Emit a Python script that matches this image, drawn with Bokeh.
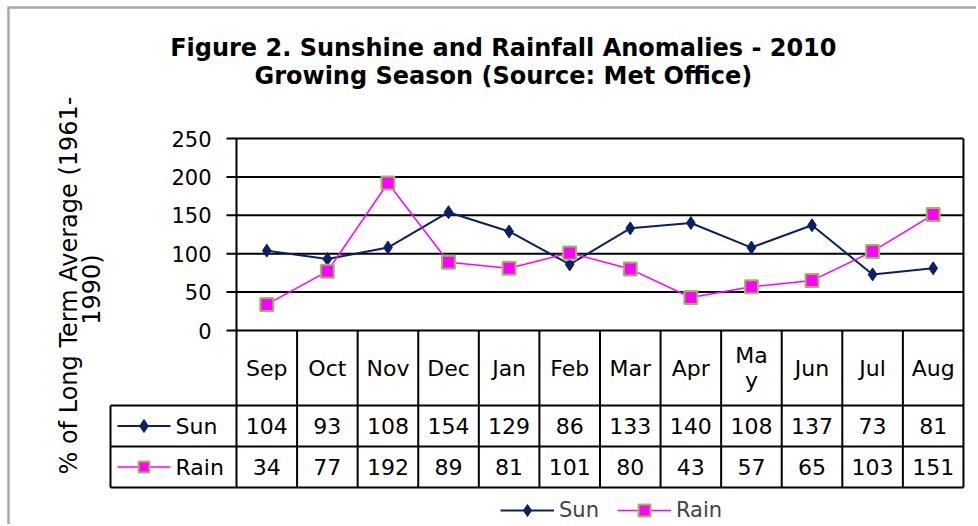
import numpy as np
from bokeh.plotting import figure
from bokeh.models import ColumnDataSource, Range1d, Label, Legend, LegendItem
from bokeh.core.properties import value
from bokeh.embed import file_html
from bokeh.resources import INLINE

# ---- data ----
months = ["Sep", "Oct", "Nov", "Dec", "Jan", "Feb", "Mar", "Apr", "May", "Jun", "Jul", "Aug"]
sun = [104, 93, 108, 154, 129, 86, 133, 140, 108, 137, 73, 81]
rain = [34, 77, 192, 89, 81, 101, 80, 43, 57, 65, 103, 151]
y_ticks = [0, 50, 100, 150, 200, 250]
title_lines = ["Figure 2.  Sunshine and Rainfall Anomalies - 2010",
               "Growing Season  (Source: Met Office)"]
ytitle_lines = ["% of Long Term Average (1961-", "1990)"]
series_names = ["Sun", "Rain"]

SUN_C = "#0b1f66"
RAIN_C = "#ff00ff"
RAIN_EDGE = "#9bbb59"
BORDER_C = "#a8a8a8"
FONT = value("DejaVu Sans")

W, H = 976, 524
# layout helpers: canvas pixel -> data units (x: one unit per month column)
def dx(px):
    return (px - 236.0) / 60.58

def dy(py):
    return (330.0 - py) / 0.768

n = len(months)
xc = [i + 0.5 for i in range(n)]

# table geometry (data units)
Y_HEAD = dy(405)
Y_SUN = dy(446)
Y_RAIN = dy(487)
X_LAB = dx(110)
YC_HEAD = dy(367.5)
YC_SUN = dy(425.5)
YC_RAIN = dy(466.5)

p = figure(width=W, height=H, output_backend="svg", toolbar_location=None,
           x_axis_type=None, y_axis_type=None,
           x_range=Range1d(dx(0), dx(W)), y_range=Range1d(dy(H), dy(0)),
           min_border=0)
p.outline_line_color = None
p.background_fill_color = "white"
p.border_fill_color = "white"

# chart-area border (left & top)
p.segment(x0=[dx(8), dx(7)], y0=[dy(H), dy(7)], x1=[dx(8), dx(W)], y1=[dy(7), dy(7)],
          line_color=BORDER_C, line_width=2.5)

# gridlines + tick marks
p.segment(x0=[dx(226)] * len(y_ticks), y0=y_ticks, x1=[n] * len(y_ticks), y1=y_ticks,
          line_color="black", line_width=2)
# tick labels
p.text(x=[dx(211)] * len(y_ticks), y=y_ticks, text=[str(t) for t in y_ticks],
       text_font=FONT, text_font_size="21px", text_align="right", text_baseline="middle",
       text_color="black")

# table lines
vx0 = [0, n] + list(range(1, n)) + [X_LAB]
vy0 = [max(y_ticks), max(y_ticks)] + [0] * (n - 1) + [Y_HEAD]
vy1 = [Y_RAIN] * (n + 2)
p.segment(x0=vx0, y0=vy0, x1=vx0, y1=vy1, line_color="black", line_width=2)
p.segment(x0=[X_LAB] * 3, y0=[Y_HEAD, Y_SUN, Y_RAIN], x1=[n] * 3, y1=[Y_HEAD, Y_SUN, Y_RAIN],
          line_color="black", line_width=2)

# header labels
disp = ["Ma\ny" if m == "May" else m for m in months]
p.text(x=xc, y=[YC_HEAD] * n, text=disp, text_font=FONT, text_font_size="22px",
       text_align="center", text_baseline="middle", text_color="black", text_line_height=1.0)
# values
p.text(x=xc, y=[YC_SUN] * n, text=[str(v) for v in sun], text_font=FONT, text_font_size="22px",
       text_align="center", text_baseline="middle", text_color="black")
p.text(x=xc, y=[YC_RAIN] * n, text=[str(v) for v in rain], text_font=FONT, text_font_size="22px",
       text_align="center", text_baseline="middle", text_color="black")

# row legend keys in the table
p.line(x=[dx(117), dx(170)], y=[YC_SUN, YC_SUN], line_color=SUN_C, line_width=2)
p.scatter(x=[dx(143.5)], y=[YC_SUN], marker="diamond", size=13,
          fill_color=SUN_C, line_color=SUN_C)
p.line(x=[dx(117), dx(170)], y=[YC_RAIN, YC_RAIN], line_color=RAIN_C, line_width=1.5)
p.scatter(x=[dx(143.5)], y=[YC_RAIN], marker="square", size=11,
          fill_color=RAIN_C, line_color=RAIN_EDGE, line_width=2)
p.text(x=[dx(175), dx(175)], y=[YC_SUN, YC_RAIN], text=series_names, text_font=FONT,
       text_font_size="22px", text_align="left", text_baseline="middle", text_color="black")

# series
src = ColumnDataSource(dict(x=xc, sun=sun, rain=rain))
l1 = p.line("x", "sun", source=src, line_color=SUN_C, line_width=2)
m1 = p.scatter("x", "sun", source=src, marker="diamond", size=13,
               fill_color=SUN_C, line_color=SUN_C)
l2 = p.line("x", "rain", source=src, line_color=RAIN_C, line_width=1.5)
m2 = p.scatter("x", "rain", source=src, marker="square", size=13,
               fill_color=RAIN_C, line_color=RAIN_EDGE, line_width=2)

legend = Legend(items=[LegendItem(label=series_names[0], renderers=[l1, m1]),
                       LegendItem(label=series_names[1], renderers=[l2, m2])],
                orientation="horizontal", location=(500, -1),
                label_text_font="DejaVu Sans", label_text_font_size="21px",
                glyph_width=54, glyph_height=30, spacing=18, padding=0, margin=0,
                label_standoff=5, border_line_color=None, background_fill_alpha=0)
p.add_layout(legend)

# titles
for txt, py in zip(title_lines, [47, 75]):
    p.add_layout(Label(x=dx(507), y=dy(py), text=txt, text_align="center", text_baseline="middle",
                       text_font="DejaVu Sans", text_font_style="bold",
                       text_font_size="24px", text_color="black"))
for txt, px, py in zip(ytitle_lines, [68, 91], [285, 289]):
    p.add_layout(Label(x=dx(px), y=dy(py), text=txt, angle=np.pi / 2, text_align="center",
                       text_baseline="middle", text_font="DejaVu Sans", text_font_size="24px",
                       text_color="black"))

open("out.html", "w").write(file_html(p, INLINE))
